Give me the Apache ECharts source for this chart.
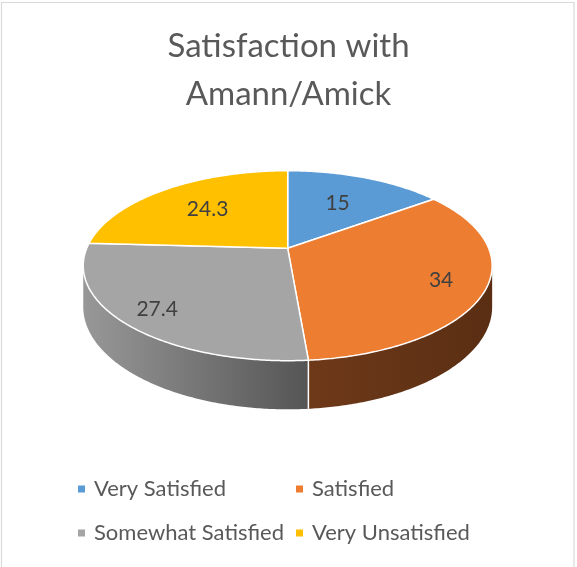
<!DOCTYPE html>
<html><head><meta charset="utf-8">
<script src="https://cdn.jsdelivr.net/npm/echarts@6/dist/echarts.min.js"></script>
<style>html,body{margin:0;padding:0;background:#fff}#c{width:577px;height:567px}</style>
</head><body><div id="c"></div>
<script>
// ---- data ----
const categories = ['Very Satisfied', 'Satisfied', 'Somewhat Satisfied', 'Very Unsatisfied'];
const values = [15, 34, 27.4, 24.3];
const titleText = 'Satisfaction with\nAmann/Amick';

// ---- style ----
const colors = ['#5B9BD5', '#ED7D31', '#A5A5A5', '#FFC000'];
const wallColors = [['#3b6a96', '#2f5577'], ['#6e3919', '#5a2e13'], ['#989898', '#555555'], ['#a07a00', '#7f6000']];

// ---- layout of the tilted pie (perspective projection) ----
const CX = 287.7, CY = 248.3, RX = 201, RY = 91.8, PK = 0.1832, DEPTH = 39.7;
const total = values.reduce((a, b) => a + b, 0);
const starts = [];
(function () { let acc = 0; values.forEach(v => { starts.push(acc / total * 2 * Math.PI); acc += v; }); })();
function proj(t, r, drop) {
  const X = r * Math.sin(t), Z = r * Math.cos(t);
  const w = 1 + PK * Z;
  return [CX + RX * X / w, CY - RY * Z / w + (drop || 0) / w];
}
const VIS0 = Math.acos(-PK), VIS1 = 2 * Math.PI - VIS0;

function renderSlice(i) {
  return function (params, api) {
    const v = api.value(0);
    const a0 = starts[i], a1 = a0 + v / total * 2 * Math.PI;
    const children = [];
    const s = Math.max(a0, VIS0), e = Math.min(a1, VIS1);
    if (e > s) {
      const n = Math.max(2, Math.ceil((e - s) / 0.01));
      const pts = [];
      for (let k = 0; k <= n; k++) pts.push(proj(s + (e - s) * k / n, 1, 0));
      for (let k = n; k >= 0; k--) pts.push(proj(s + (e - s) * k / n, 1, DEPTH));
      let xmin = Infinity, xmax = -Infinity;
      pts.forEach(p => { xmin = Math.min(xmin, p[0]); xmax = Math.max(xmax, p[0]); });
      children.push({
        type: 'polygon', z2: 1,
        shape: { points: pts },
        style: { fill: new echarts.graphic.LinearGradient(xmin, 0, xmax, 0, [
          { offset: 0, color: wallColors[i][0] }, { offset: 1, color: wallColors[i][1] }], true) }
      });
      if (a0 > VIS0 && a0 < VIS1) {
        const p1 = proj(a0, 1, 0), p2 = proj(a0, 1, DEPTH);
        children.push({ type: 'line', z2: 2, shape: { x1: p1[0], y1: p1[1], x2: p2[0], y2: p2[1] },
          style: { stroke: '#ffffff', lineWidth: 1.5 } });
      }
    }
    const n2 = Math.max(2, Math.ceil((a1 - a0) / 0.01));
    const top = [[CX, CY]];
    for (let k = 0; k <= n2; k++) top.push(proj(a0 + (a1 - a0) * k / n2, 1, 0));
    children.push({
      type: 'polygon', z2: 5, shape: { points: top },
      style: { fill: colors[i], stroke: '#ffffff', lineWidth: 1.5, lineJoin: 'round' }
    });
    const m = (a0 + a1) / 2;
    const lp = proj(m, 0.73 - 0.14 * Math.cos(m), 0);
    children.push({
      type: 'text', z2: 10, x: lp[0], y: lp[1],
      style: { text: String(v), align: 'center', verticalAlign: 'middle',
        fontFamily: 'Lato', fontSize: 21, fill: '#404040' }
    });
    return { type: 'group', children };
  };
}

const chart = echarts.init(document.getElementById('c'), null, { renderer: 'canvas' });
chart.setOption({
  animation: false,
  backgroundColor: '#ffffff',
  title: {
    text: titleText, left: 'center', top: 22, padding: 0,
    textStyle: { fontFamily: 'Lato', fontSize: 33, fontWeight: 'normal', color: '#595959', lineHeight: 48 }
  },
  legend: categories.map((c, i) => ({
    data: [c], left: i % 2 === 0 ? 78 : 296, top: i < 2 ? 477 : 521, padding: 0,
    icon: 'path://M0,0L1,0L1,1L0,1Z', itemWidth: 15, itemHeight: 7, selectedMode: false,
    textStyle: { fontFamily: 'Lato', fontSize: 22, color: '#595959', lineHeight: 24 }
  })),
  graphic: [{
    type: 'rect', silent: true, z: -1,
    shape: { x: 1.5, y: 2.5, width: 572.5, height: 600 },
    style: { fill: 'none', stroke: '#d9d9d9', lineWidth: 1.2 }
  }],
  series: categories.map((c, i) => ({
    type: 'custom', name: c, coordinateSystem: 'none', silent: true,
    itemStyle: { color: colors[i] },
    renderItem: renderSlice(i),
    data: [[values[i]]]
  }))
});
</script></body></html>
